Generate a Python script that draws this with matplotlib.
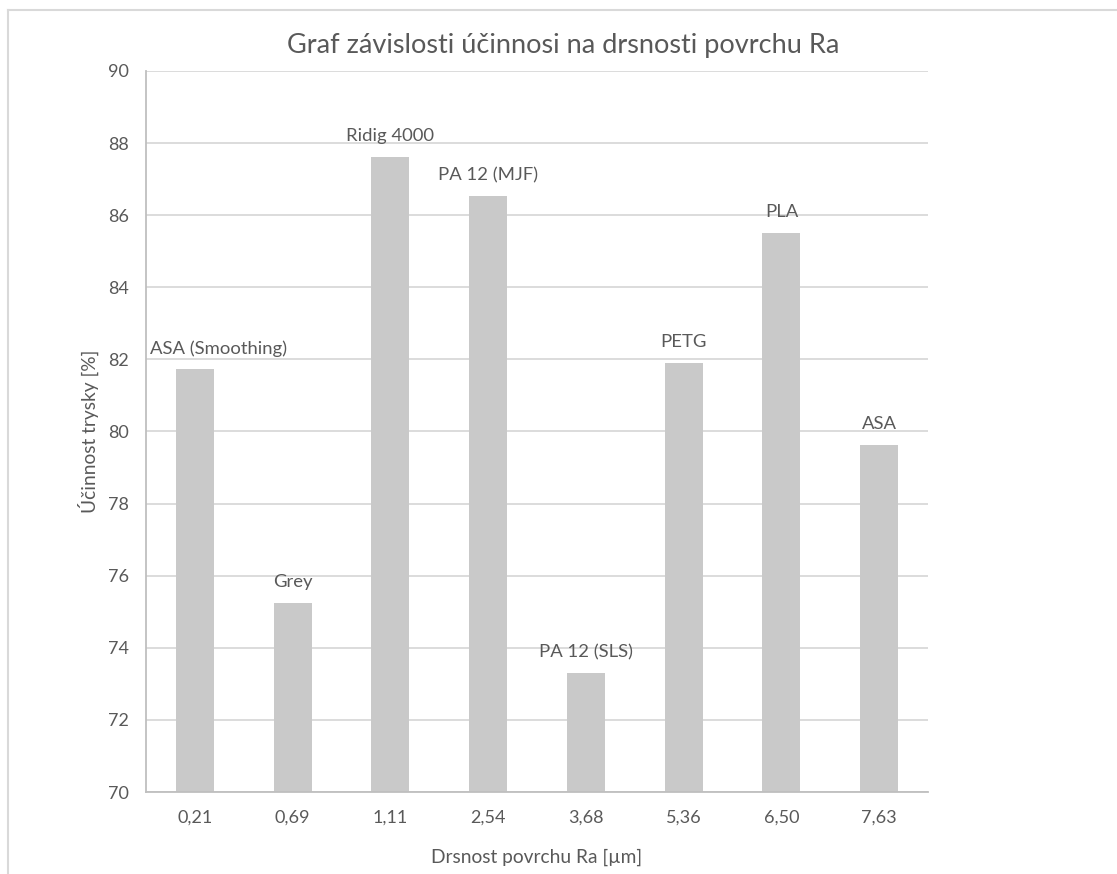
import numpy as np
import matplotlib.pyplot as plt
from matplotlib.lines import Line2D

plt.rcParams['font.family'] = ['Lato', 'DejaVu Sans']

# data
roughness = ['0,21', '0,69', '1,11', '2,54', '3,68', '5,36', '6,50', '7,63']
materials = ['ASA (Smoothing)', 'Grey', 'Ridig 4000', 'PA 12 (MJF)',
             'PA 12 (SLS)', 'PETG', 'PLA', 'ASA']
efficiency = [81.73, 75.24, 87.61, 86.53, 73.30, 81.90, 85.50, 79.63]

text_col = '#595959'
bar_col = '#C9C9C9'
grid_col = '#D9D9D9'

fig = plt.figure(figsize=(11.17, 8.74), dpi=100)
ax = fig.add_axes([0.1307, 0.0938, 0.7001, 0.825])

x = np.arange(len(roughness))
ax.bar(x, efficiency, width=0.39, color=bar_col, zorder=2)

for i, (v, name) in enumerate(zip(efficiency, materials)):
    if i == 0:
        # label pushed inside plot area like in Excel
        ax.annotate(name, (-0.5, v), xytext=(3, 15), textcoords='offset points',
                    ha='left', va='center', fontsize=13.3, color=text_col)
    else:
        ax.annotate(name, (i, v), xytext=(0, 15), textcoords='offset points',
                    ha='center', va='center', fontsize=13.3, color=text_col)

ax.set_xlim(-0.5, len(roughness) - 0.5)
ax.set_ylim(70, 90)
ax.set_yticks(np.arange(70, 91, 2))
ax.set_xticks(x)
ax.set_xticklabels(roughness)
ax.yaxis.grid(True, color=grid_col, linewidth=1.3, zorder=0)
ax.set_axisbelow(True)

for s in ['top', 'right']:
    ax.spines[s].set_visible(False)
ax.spines['left'].set_color('#BFBFBF')
ax.spines['bottom'].set_color('#BFBFBF')
ax.spines['left'].set_linewidth(1.3)
ax.spines['bottom'].set_linewidth(1.3)

ax.tick_params(axis='both', length=0, labelsize=13, labelcolor=text_col)
ax.tick_params(axis='y', pad=12)
ax.tick_params(axis='x', pad=13)

ax.set_xlabel('Drsnost povrchu Ra [µm]', fontsize=13.8, color=text_col, labelpad=16)
ax.set_ylabel('Účinnost trysky [%]', fontsize=13.8, color=text_col, labelpad=7)
fig.text(0.504, 0.948, 'Graf závislosti účinnosi na drsnosti povrchu Ra',
         ha='center', va='center', fontsize=19.5, color=text_col)

# outer chart frame (top and left edges visible)
fig.add_artist(Line2D([8 / 1117, 8 / 1117], [0, 1 - 10 / 874], transform=fig.transFigure,
                      color=grid_col, linewidth=1.5))
fig.add_artist(Line2D([8 / 1117, 1], [1 - 10 / 874, 1 - 10 / 874], transform=fig.transFigure,
                      color=grid_col, linewidth=1.5))

fig.savefig('out.png', dpi=100, facecolor='white')
